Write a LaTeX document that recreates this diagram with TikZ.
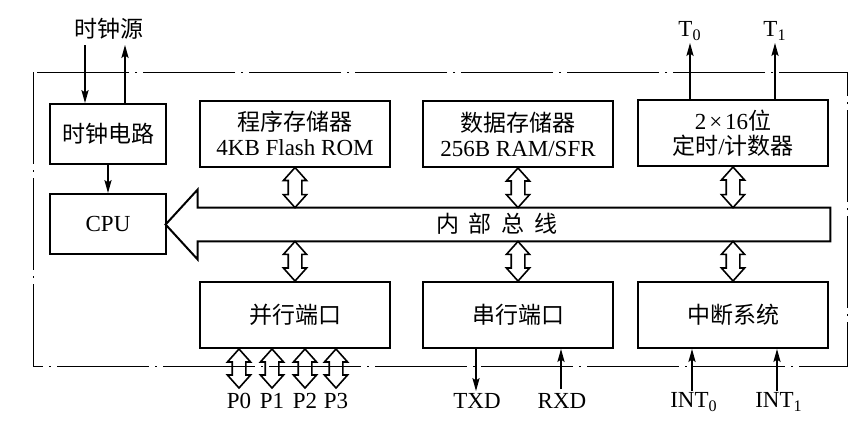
\documentclass[tikz,border=0pt]{standalone}
\usepackage{fontspec}
\setmainfont{Liberation Serif}
\newfontfamily\cjk{Noto Sans CJK SC}
\usetikzlibrary{arrows.meta,calc}
\tikzset{
    unit box/.style   = {draw, line width=1pt, minimum width=95pt, minimum height=33pt, inner sep=0pt,
                         align=center, font=\fontsize{11.5}{12.5}\selectfont},
    small box/.style  = {unit box, minimum width=58pt, minimum height=30pt},
    sig/.style        = {line width=0.6pt, -{Stealth[length=6.5pt,width=3.6pt,inset=1.2pt]}},
    frame line/.style = {line width=0.5pt, dash pattern=on 46pt off 3pt on 1pt off 3pt},
    pin label/.style  = {font=\fontsize{11.5}{12.5}\selectfont, inner sep=0pt},
}
% hollow two-headed arrow between two points on one vertical
\newcommand{\busarrow}[2]{%
    \filldraw[fill=white, line width=0.8pt, line join=miter] let \p1=(#1), \p2=(#2) in
        (\x1,\y1) -- (\x1+5.8pt,\y1-6.5pt) -- (\x1+3.4pt,\y1-6.5pt) -- (\x1+3.4pt,\y2+6.5pt)
        -- (\x1+5.8pt,\y2+6.5pt) -- (\x1,\y2) -- (\x1-5.8pt,\y2+6.5pt) -- (\x1-3.4pt,\y2+6.5pt)
        -- (\x1-3.4pt,\y1-6.5pt) -- (\x1-5.8pt,\y1-6.5pt) -- cycle;}
\begin{document}
\begin{tikzpicture}[x=0.5pt, y=-0.5pt]
    \useasboundingbox (0,0) rectangle (863,430);

    % blocks
    \node[small box] (clk)   at (108,134)   {\cjk 时钟电路};
    \node[small box] (cpu)   at (108,224)   {CPU};
    \node[unit box]  (prog)  at (295,133.5) {{\cjk 程序存储器}\\4KB Flash ROM};
    \node[unit box]  (data)  at (518,134)   {{\cjk 数据存储器}\\256B RAM/SFR};
    \node[unit box]  (timer) at (733,133)   {2\hspace{1.5pt}×\hspace{1.5pt}16{\cjk 位}\\{\cjk 定时}/{\cjk 计数器}};
    \node[unit box]  (par)   at (295,315)   {\cjk 并行端口};
    \node[unit box]  (ser)   at (518,315)   {\cjk 串行端口};
    \node[unit box]  (intr)  at (733,315)   {\cjk 中断系统};

    % internal bus
    \node[minimum width=316pt, minimum height=16.5pt, inner sep=0pt] (bus) at (514,224.5) {};
    \draw[line width=1pt, line join=miter] (bus.north east) -- (bus.north west) -- ($(bus.north west)+(0,-18)$)
        -- ($(bus.west)+(-32,0)$) -- ($(bus.south west)+(0,18)$) -- (bus.south west) -- (bus.south east) -- cycle;
    \node[pin label] (buslabel) at (497,224) {\cjk 内\hspace{5pt}部\hspace{5pt}总\hspace{5pt}线};

    \foreach \blk in {prog, data, timer}
        \busarrow{\blk.south}{\blk.south |- bus.north};
    \foreach \blk in {par, ser, intr}
        \busarrow{\blk.north |- bus.south}{\blk.north};

    % clock
    \node[pin label] (src) at (109,29) {\cjk 时钟源};
    \coordinate (srcin)  at (85,45);
    \coordinate (srcout) at (125,45);
    \draw[sig] (srcin) -- (srcin |- clk.north);
    \draw[sig] (srcout |- clk.north) -- (srcout);
    \draw[sig] (clk.south) -- (cpu.north);

    % timer outputs
    \foreach \i/\dx in {0/53, 1/138} {
        \coordinate (t\i) at ($(timer.north west)+(\dx,-56)$);
        \draw[sig] (t\i |- timer.north) -- (t\i);
        \node[pin label] (tl\i) at ($(t\i)+(0,-12)$) {T\textsubscript{\i}};
    }

    % parallel ports
    \foreach \i/\dx in {0/40, 1/73, 2/106, 3/137} {
        \coordinate (p\i) at ($(par.south west)+(\dx,39)$);
        \busarrow{p\i |- par.south}{p\i};
        \node[pin label] (pl\i) at ($(p\i)+(0,13)$) {P\i};
    }

    % serial port
    \coordinate (txd) at ($(ser.south west)+(54,42)$);
    \coordinate (rxd) at ($(ser.south west)+(139,40)$);
    \draw[sig] (txd |- ser.south) -- (txd);
    \draw[sig] (rxd) -- (rxd |- ser.south);
    \node[pin label] (txdl) at (477,401) {TXD};
    \node[pin label] (rxdl) at (562,401) {RXD};

    % interrupts
    \foreach \i/\dx in {0/55, 1/140} {
        \coordinate (int\i) at ($(intr.south west)+(\dx,42)$);
        \draw[sig] (int\i) -- (int\i |- intr.south);
        \node[pin label] (intl\i) at ($(int\i)+(2,11)$) {INT\textsubscript{\i}};
    }

    % chip outline
    \draw[frame line] (33,72) rectangle (847,366);
\end{tikzpicture}
\end{document}
